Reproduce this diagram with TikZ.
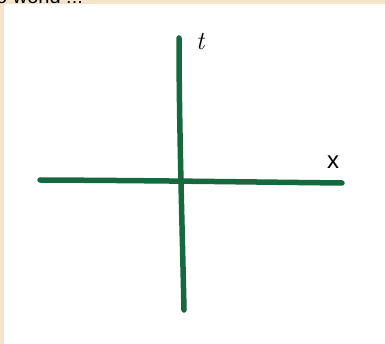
\documentclass[tikz,border=0pt]{standalone}
\usepackage{fontspec}
\setsansfont{Liberation Sans}
\usetikzlibrary{positioning}
\definecolor{paper}{RGB}{246,228,200}
\definecolor{pen}{RGB}{22,104,62}

\begin{document}
\begin{tikzpicture}[x=1pt,y=-1pt]
    % Bounding box: same size as the scan
    \useasboundingbox (0,0) rectangle (385,344);
    \fill[paper] (0,0) rectangle (385,344);
    \fill[white] (4,4) rectangle (385,344);

    % Title cut off at the top
    \node[anchor=base west, inner sep=0pt, font=\sffamily\fontsize{20}{20}\selectfont] (title) at (-4,4) {o world !!!};

    % Axis ends
    \coordinate (tbot) at (184,310);
    \coordinate (ttop) at (179,38);
    \coordinate (xleft) at (40,180);
    \coordinate (xright) at (342,183);

    % Axes drawn with a marker
    \draw[pen, line width=5.5pt, line cap=round] (xleft) .. controls (150,180.5) and (250,182) .. (xright);
    \draw[pen, line width=5.5pt, line cap=round] (tbot) .. controls (182,220) and (179,120) .. (ttop);

    % Labels
    \node[font=\itshape\fontsize{26}{26}\selectfont] (tlab) at (200,42) {t};
    \node[font=\sffamily\fontsize{24}{24}\selectfont] (xlab) at (333,162) {x};
\end{tikzpicture}
\end{document}
